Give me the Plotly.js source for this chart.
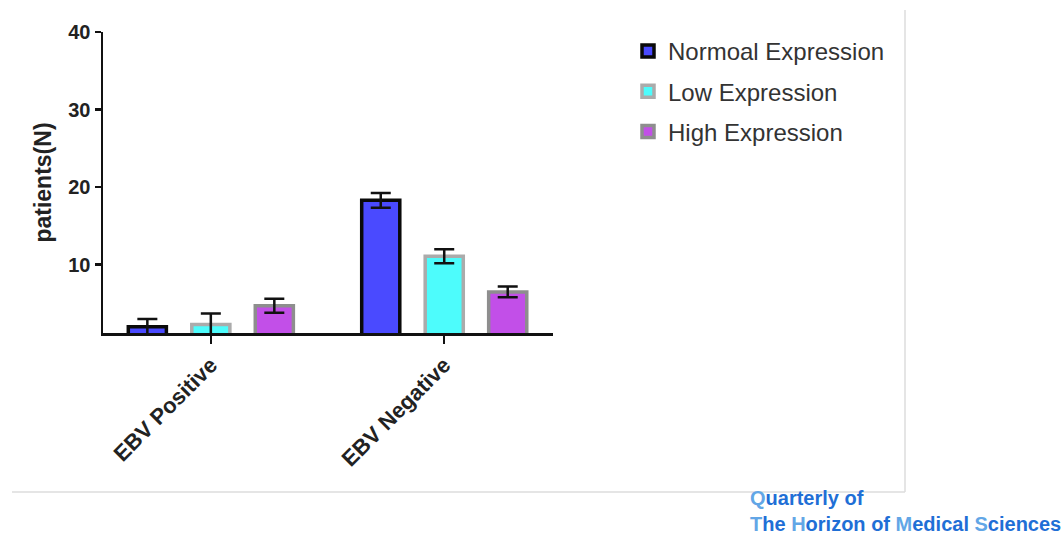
<!DOCTYPE html>
<html>
<head>
<meta charset="utf-8">
<script src="https://cdn.plot.ly/plotly-3.0.1.min.js"></script>
<style>html,body{margin:0;padding:0;background:#fff;}#chart{width:1064px;height:534px;}</style>
</head>
<body>
<div id="chart"></div>
<script>
// ---- data ----
const categories = ["EBV Positive", "EBV Negative"];
const seriesNames = ["Normoal Expression", "Low Expression", "High Expression"];
const normalValues = [2.0, 18.3];
const normalErrors = [1.0, 0.95];
const lowValues = [2.3, 11.1];
const lowErrors = [1.4, 0.9];
const highValues = [4.7, 6.5];
const highErrors = [0.9, 0.7];
const yTickValues = [10, 20, 30, 40];

// ---- layout helpers (pixel geometry -> paper coords) ----
const L = 103, R = 511, T = 32, B = 201, W = 1064, H = 534;
const pw = W - L - R, ph = H - T - B;
const px = x => (x - L) / pw;
const py = y => (H - B - y) / ph;

const FONT = "Arial, 'Liberation Sans', sans-serif";

function barTrace(name, vals, errs, fill, edge, edgeW, group) {
  return {
    type: "bar",
    name: name,
    x: categories,
    y: vals,
    legendgroup: group,
    marker: { color: fill, line: { color: edge, width: edgeW } },
    error_y: { type: "data", array: errs, visible: true, color: "#111", thickness: 2.5, width: 10 }
  };
}

const data = [
  barTrace(seriesNames[0], normalValues, normalErrors, "#4a4aff", "#0a0a0a", 3.5, "g1"),
  barTrace(seriesNames[1], lowValues, lowErrors, "#4dfcfc", "#ababab", 3.5, "g2"),
  barTrace(seriesNames[2], highValues, highErrors, "#c24fe8", "#8e8e8e", 3.5, "g3")
];

const layout = {
  width: W, height: H,
  margin: { l: L, r: R, t: T, b: B, pad: 0 },
  paper_bgcolor: "#ffffff",
  plot_bgcolor: "#ffffff",
  font: { family: FONT, color: "#111" },
  barmode: "group",
  bargap: 0.184,
  bargroupgap: 0.40,
  showlegend: true,
  legend: {
    x: px(628), y: py(29), xanchor: "left", yanchor: "top",
    font: { family: FONT, size: 24, color: "#333" },
    traceorder: "grouped", tracegroupgap: 6,
    bgcolor: "rgba(0,0,0,0)"
  },
  xaxis: {
    type: "category",
    range: [-0.462, 1.466],
    showline: true, linecolor: "#111", linewidth: 2.5,
    ticks: "outside", ticklen: 8, tickwidth: 2.5, tickcolor: "#111",
    tickangle: -45,
    tickfont: { family: FONT, size: 22, color: "#222", weight: "bold" },
    showgrid: false, zeroline: false
  },
  yaxis: {
    range: [1.2, 40],
    tickvals: yTickValues,
    ticktext: yTickValues.map(String),
    showline: true, linecolor: "#111", linewidth: 2.5,
    ticks: "outside", ticklen: 6, tickwidth: 2.5, tickcolor: "#111",
    tickfont: { family: FONT, size: 20, color: "#222", weight: "bold" },
    showgrid: false, zeroline: false,
    title: { text: "patients(N)", font: { family: FONT, size: 23, color: "#222", weight: "bold" }, standoff: 10 }
  },
  shapes: [
    { type: "line", xref: "paper", yref: "paper", x0: px(905), x1: px(905), y0: py(10), y1: py(492), line: { color: "#dddddd", width: 1.5 } },
    { type: "line", xref: "paper", yref: "paper", x0: px(12), x1: px(905), y0: py(492), y1: py(492), line: { color: "#dddddd", width: 1.5 } }
  ],
  annotations: [
    {
      xref: "paper", yref: "paper", x: px(748), y: py(498), xanchor: "left", yanchor: "middle",
      showarrow: false,
      text: "<span style='color:#62a6e6'>Q</span><span style='color:#1f6fd6'>uarterly of</span>",
      font: { family: FONT, size: 20, weight: "bold" }
    },
    {
      xref: "paper", yref: "paper", x: px(748), y: py(524), xanchor: "left", yanchor: "middle",
      showarrow: false,
      text: "<span style='color:#62a6e6'>T</span><span style='color:#1f6fd6'>he </span><span style='color:#62a6e6'>H</span><span style='color:#1f6fd6'>orizon of </span><span style='color:#62a6e6'>M</span><span style='color:#1f6fd6'>edical </span><span style='color:#62a6e6'>S</span><span style='color:#1f6fd6'>ciences</span>",
      font: { family: FONT, size: 20, weight: "bold" }
    }
  ]
};

Plotly.newPlot("chart", data, layout, { displayModeBar: false, staticPlot: true });
</script>
</body>
</html>
